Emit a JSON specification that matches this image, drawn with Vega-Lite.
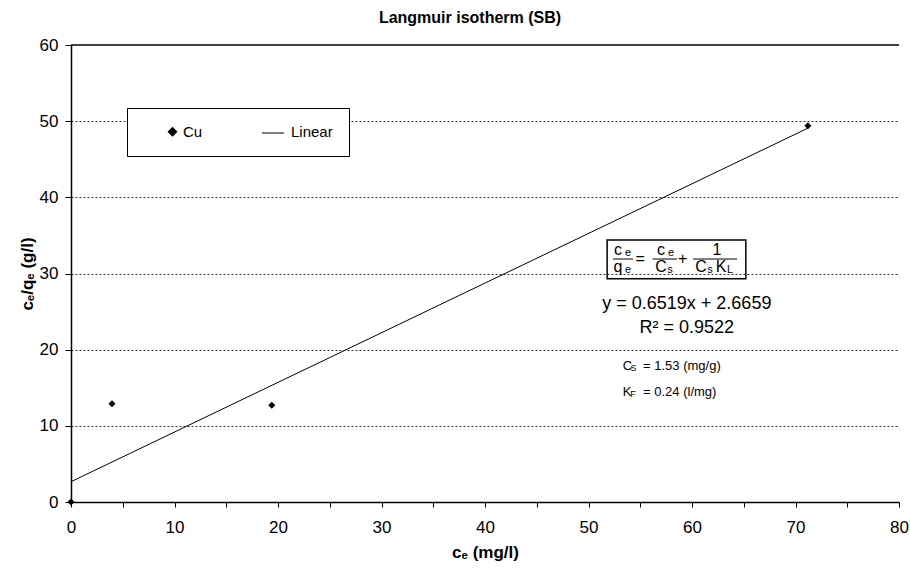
{
  "$schema": "https://vega.github.io/schema/vega-lite/v6.json",
  "autosize": {"type": "none"},
  "width": 828,
  "height": 457,
  "padding": {"left": 71, "top": 45, "right": 11, "bottom": 68},
  "background": "white",
  "config": {
    "view": {"stroke": null},
    "font": "Liberation Sans",
    "axis": {"labelFont": "Liberation Sans", "titleFont": "Liberation Sans", "labelColor": "black", "titleColor": "black", "domainColor": "black", "tickColor": "black", "domainWidth": 1.5}
  },
  "title": {"text": "Langmuir isotherm (SB)", "font": "Liberation Sans", "fontSize": 16, "fontWeight": "bold", "anchor": "middle", "offset": 10, "dx": -15, "color": "black"},
  "datasets": {
    "cu": [
      {"x": 0, "y": 0, "series": "Cu"},
      {"x": 3.96, "y": 12.9, "series": "Cu"},
      {"x": 19.4, "y": 12.7, "series": "Cu"},
      {"x": 71.2, "y": 49.4, "series": "Cu"}
    ],
    "fit": [
      {"x": 0, "y": 2.6659, "series": "Linear"},
      {"x": 71.2, "y": 49.08, "series": "Linear"}
    ],
    "top": [{"y": 60}],
    "box": [{"x": 51.8, "x2": 65.2, "y": 29.3, "y2": 34.4}],
    "bars": [
      {"x": 52.37, "x2": 54.3, "y": 31.9},
      {"x": 56.2, "x2": 58.55, "y": 31.9},
      {"x": 60.1, "x2": 64.35, "y": 31.9}
    ],
    "fmain": [
      {"x": 52.85, "y": 33.1, "t": "c"},
      {"x": 52.85, "y": 30.85, "t": "q"},
      {"x": 55.0, "y": 31.9, "t": "="},
      {"x": 57.0, "y": 33.1, "t": "c"},
      {"x": 57.0, "y": 30.85, "t": "C"},
      {"x": 59.1, "y": 31.9, "t": "+"},
      {"x": 62.4, "y": 33.1, "t": "1"},
      {"x": 60.87, "y": 30.85, "t": "C"},
      {"x": 62.8, "y": 30.85, "t": "K"}
    ],
    "fsub": [
      {"x": 53.82, "y": 33.1, "t": "e"},
      {"x": 53.82, "y": 30.85, "t": "e"},
      {"x": 57.97, "y": 33.1, "t": "e"},
      {"x": 57.87, "y": 30.85, "t": "s"},
      {"x": 61.74, "y": 30.85, "t": "s"},
      {"x": 63.67, "y": 30.85, "t": "L"}
    ],
    "big": [
      {"x": 59.5, "y": 26.0, "t": "y = 0.6519x + 2.6659"},
      {"x": 59.5, "y": 22.8, "t": "R² = 0.9522"}
    ],
    "small": [
      {"x": 53.3, "y": 17.85, "t": "C"},
      {"x": 55.27, "y": 17.85, "t": "= 1.53  (mg/g)"},
      {"x": 53.3, "y": 14.4, "t": "K"},
      {"x": 55.27, "y": 14.4, "t": "= 0.24 (l/mg)"}
    ],
    "smallsub": [
      {"x": 54.35, "y": 17.85, "t": "S"},
      {"x": 54.3, "y": 14.4, "t": "F"}
    ]
  },
  "layer": [
    {
      "data": {"name": "top"},
      "mark": {"type": "rule", "color": "black", "strokeWidth": 1.5},
      "encoding": {
        "y": {"field": "y", "type": "quantitative", "scale": {"domain": [0, 60], "nice": false},
          "axis": {
            "values": [0, 5, 10, 15, 20, 25, 30, 35, 40, 45, 50, 55, 60],
            "labelExpr": "datum.value % 10 === 0 ? datum.label : ''",
            "labelFontSize": 17, "labelPadding": 7,
            "tickSize": {"condition": {"test": "datum.value % 10 !== 0", "value": -5}, "value": 6},
            "grid": true, "gridColor": "black", "gridDash": [2, 2], "gridWidth": 1,
            "gridOpacity": {"condition": {"test": "datum.value % 10 !== 0 || datum.value === 0 || datum.value === 60", "value": 0}, "value": 0.8},
            "title": "cₑ/qₑ (g/l)", "titleFontSize": 17, "titleFontWeight": "bold", "titlePadding": 3
          }
        }
      }
    },
    {
      "data": {"name": "fit"},
      "mark": {"type": "line", "strokeWidth": 1},
      "encoding": {
        "x": {"field": "x", "type": "quantitative", "scale": {"domain": [0, 80], "nice": false},
          "axis": {
            "values": [0, 5, 10, 15, 20, 25, 30, 35, 40, 45, 50, 55, 60, 65, 70, 75, 80],
            "labelExpr": "datum.value % 10 === 0 ? datum.label : ''",
            "labelFontSize": 17, "labelPadding": 12, "tickSize": 5, "grid": false,
            "labelFlush": false,
            "title": "cₑ (mg/l)", "titleFontSize": 17, "titleFontWeight": "bold", "titlePadding": 9
          }
        },
        "y": {"field": "y", "type": "quantitative"},
        "color": {"field": "series", "type": "nominal",
          "scale": {"domain": ["Linear"], "range": ["black"]},
          "legend": {
            "title": null, "orient": "none", "legendX": 190, "legendY": 76,
            "padding": 0, "symbolSize": 500, "symbolStrokeWidth": 1,
            "symbolOffset": 0, "labelExpr": "''", "labelFontSize": 15,
            "zindex": 5
          }
        }
      }
    },
    {
      "data": {"name": "cu"},
      "mark": {"type": "point", "filled": true, "color": "black", "opacity": 1, "size": 50},
      "encoding": {
        "x": {"field": "x", "type": "quantitative"},
        "y": {"field": "y", "type": "quantitative"},
        "shape": {"field": "series", "type": "nominal",
          "scale": {"domain": ["Cu", "Linear"], "range": ["diamond", "stroke"]},
          "legend": {
            "title": null, "orient": "none", "legendX": 56, "legendY": 63,
            "direction": "horizontal", "columns": 2,
            "fillColor": "white", "strokeColor": "black", "padding": 16,
            "labelFont": "Liberation Sans", "labelFontSize": 15, "labelColor": "black",
            "symbolOffset": 22, "columnPadding": 48, "labelOffset": 3,
            "zindex": 1
          }
        }
      }
    },
    {
      "data": {"name": "box"},
      "mark": {"type": "rect", "fill": null, "stroke": "black", "strokeWidth": 1.5},
      "encoding": {
        "x": {"field": "x", "type": "quantitative"},
        "x2": {"field": "x2"},
        "y": {"field": "y", "type": "quantitative"},
        "y2": {"field": "y2"}
      }
    },
    {
      "data": {"name": "bars"},
      "mark": {"type": "rule", "color": "black", "strokeWidth": 1},
      "encoding": {
        "x": {"field": "x", "type": "quantitative"},
        "x2": {"field": "x2"},
        "y": {"field": "y", "type": "quantitative"}
      }
    },
    {
      "data": {"name": "fmain"},
      "mark": {"type": "text", "font": "Liberation Sans", "fontSize": 16, "color": "black", "align": "center", "baseline": "middle"},
      "encoding": {
        "x": {"field": "x", "type": "quantitative"},
        "y": {"field": "y", "type": "quantitative"},
        "text": {"field": "t"}
      }
    },
    {
      "data": {"name": "fsub"},
      "mark": {"type": "text", "font": "Liberation Sans", "fontSize": 11, "color": "black", "align": "center", "baseline": "middle", "dy": 3},
      "encoding": {
        "x": {"field": "x", "type": "quantitative"},
        "y": {"field": "y", "type": "quantitative"},
        "text": {"field": "t"}
      }
    },
    {
      "data": {"name": "big"},
      "mark": {"type": "text", "font": "Liberation Sans", "fontSize": 18, "color": "black", "align": "center", "baseline": "middle"},
      "encoding": {
        "x": {"field": "x", "type": "quantitative"},
        "y": {"field": "y", "type": "quantitative"},
        "text": {"field": "t"}
      }
    },
    {
      "data": {"name": "small"},
      "mark": {"type": "text", "font": "Liberation Sans", "fontSize": 13, "color": "black", "align": "left", "baseline": "middle"},
      "encoding": {
        "x": {"field": "x", "type": "quantitative"},
        "y": {"field": "y", "type": "quantitative"},
        "text": {"field": "t"}
      }
    },
    {
      "data": {"name": "smallsub"},
      "mark": {"type": "text", "font": "Liberation Sans", "fontSize": 9, "color": "black", "align": "center", "baseline": "middle", "dy": 2},
      "encoding": {
        "x": {"field": "x", "type": "quantitative"},
        "y": {"field": "y", "type": "quantitative"},
        "text": {"field": "t"}
      }
    }
  ]
}
